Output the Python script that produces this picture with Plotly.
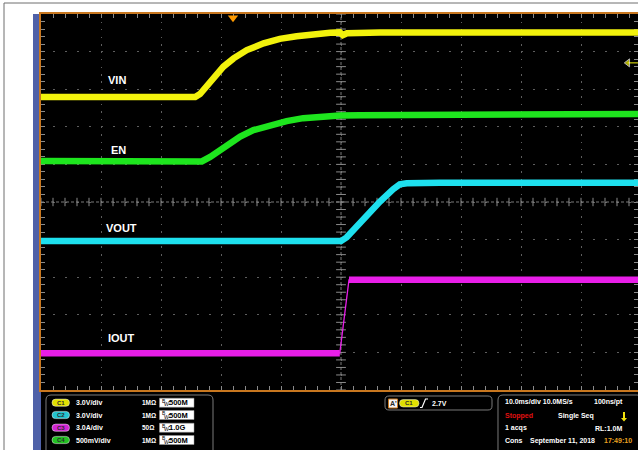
import plotly.graph_objects as go

W, H = 638, 450

# screen time in ms (10 ms/div, trigger centre at 0) and level in divisions
vin_t = [-50, -24.3, -23.5, -22.4, -21.3, -19.6, -17.9, -15.7, -12.9, -10.2, -7.4, -4.6, -1.8, -0.2, 0.3, 1.0, 6.5, 49.5]
vin_v = [2.79, 2.79, 2.87, 3.07, 3.29, 3.60, 3.82, 4.04, 4.22, 4.34, 4.41, 4.47, 4.50, 4.51, 4.44, 4.49, 4.51, 4.51]

en_t = [-50, -23.2, -21.8, -20.2, -18.5, -16.8, -14.6, -11.8, -9.05, -6.3, -3.5, -0.2, 3.2, 49.5]
en_v = [1.09, 1.08, 1.20, 1.38, 1.56, 1.74, 1.91, 2.05, 2.15, 2.23, 2.27, 2.30, 2.31, 2.34]

vout_t = [-50, 0, 0.95, 2.05, 4.3, 6.5, 8.7, 9.8, 10.95, 16.5, 49.5]
vout_v = [-1.04, -1.04, -0.94, -0.74, -0.35, 0.01, 0.34, 0.47, 0.50, 0.51, 0.51]

iout_t = [-50, -0.2, 1.33, 49.5]
iout_v = [-4.02, -4.02, -2.07, -2.07]

labels = ["VIN", "EN", "VOUT", "IOUT"]
label_t = [-39.2, -38.7, -39.5, -39.2]
label_v = [3.25, 1.39, -0.70, -3.63]
channel_no = ["1", "4", "2", "3"]
colors = ["#f2f20c", "#1ee61e", "#1ee0ee", "#e81ee8"]

ch_names = ["C1", "C2", "C3", "C4"]
ch_scale = ["3.0V/div", "3.0V/div", "3.0A/div", "500mV/div"]
ch_term = ["1M\u03a9", "1M\u03a9", "50\u03a9", "1M\u03a9"]
ch_bw = ["500M", "500M", "1.0G", "500M"]
ch_pill = ["#e0e000", "#22c4cf", "#d224d2", "#22c222"]

trig_t = -18.0
trig_level = 3.70

x_range = [-50, 49.5]
y_range = [-5, 5]

FONT = "Liberation Sans, Arial, sans-serif"
ORANGE = "#c8771f"
TICK = "#8a8a8a"


def fx(p):
    return p / W


def fy(p):
    return 1 - p / H


def rrect(x0, y0, x1, y1, r):
    pts = [("M", x0 + r, y0), ("L", x1 - r, y0), ("Q", x1, y0, x1, y0 + r), ("L", x1, y1 - r),
           ("Q", x1, y1, x1 - r, y1), ("L", x0 + r, y1), ("Q", x0, y1, x0, y1 - r),
           ("L", x0, y0 + r), ("Q", x0, y0, x0 + r, y0)]
    out = ""
    for p in pts:
        out += p[0]
        coords = p[1:]
        out += " ".join(f"{fx(coords[i]):.5f},{fy(coords[i + 1]):.5f}" for i in range(0, len(coords), 2)) + " "
    return out + "Z"


def panel_shape(**kw):
    return dict(xref="paper", yref="paper", layer="below", **kw)


def panel_text(fig, text, x, y, font, xanchor="left"):
    fig.add_annotation(x=fx(x), y=fy(y), xref="paper", yref="paper", text=text, showarrow=False,
                       xanchor=xanchor, yanchor="middle", font=font)


fig = go.Figure()

# centre cross with minor ticks
fig.add_trace(go.Scatter(x=[x_range[0], x_range[1]], y=[0, 0], mode="lines",
                         line=dict(color="#7a7a7a", width=1, dash="3px,2px"), hoverinfo="skip", showlegend=False))
fig.add_trace(go.Scatter(x=[0, 0], y=y_range, mode="lines",
                         line=dict(color="#7a7a7a", width=1, dash="3px,2px"), hoverinfo="skip", showlegend=False))
fig.add_trace(go.Scatter(x=[i * 2 for i in range(-25, 25)], y=[0] * 50, mode="markers",
                         marker=dict(symbol="line-ns", size=6, line=dict(color=TICK, width=1)),
                         hoverinfo="skip", showlegend=False))
fig.add_trace(go.Scatter(x=[0] * 51, y=[i * 0.2 for i in range(-25, 26)], mode="markers",
                         marker=dict(symbol="line-ew", size=7, line=dict(color=TICK, width=1)),
                         hoverinfo="skip", showlegend=False))

# signals
fig.add_trace(go.Scatter(x=iout_t, y=iout_v, mode="lines", line=dict(color=colors[3], width=1.3),
                         hoverinfo="skip", showlegend=False))
fig.add_trace(go.Scatter(x=iout_t[:2] + [None] + iout_t[2:], y=iout_v[:2] + [None] + iout_v[2:], mode="lines",
                         line=dict(color=colors[3], width=6.5), hoverinfo="skip", showlegend=False))
for t, v, c in [(vout_t, vout_v, colors[2]), (en_t, en_v, colors[1]), (vin_t, vin_v, colors[0])]:
    fig.add_trace(go.Scatter(x=t, y=v, mode="lines", line=dict(color=c, width=6.5),
                             hoverinfo="skip", showlegend=False))

# channel ground markers
fig.add_trace(go.Scatter(x=[x_range[0] - 0.17] * 4, y=[vin_v[0], en_v[0], vout_v[0], iout_v[0]],
                         mode="markers+text", text=channel_no, textposition="middle center",
                         textfont=dict(family=FONT, size=8, color="#222"),
                         marker=dict(size=11, color=colors, line=dict(color="#e8e8b0", width=1)),
                         cliponaxis=False, hoverinfo="skip", showlegend=False))

# trigger position and level
fig.add_trace(go.Scatter(x=[trig_t], y=[4.9], mode="markers",
                         marker=dict(symbol="triangle-down", size=9, color="#ff9a00"),
                         cliponaxis=False, hoverinfo="skip", showlegend=False))
fig.add_trace(go.Scatter(x=[47.8, x_range[1]], y=[trig_level, trig_level], mode="lines+markers",
                         line=dict(color="#f2f20c", width=1),
                         marker=dict(symbol=["triangle-left", "circle"], size=[7, 0], color="#f2f20c"),
                         xaxis="x", yaxis="y2", cliponaxis=False, hoverinfo="skip", showlegend=False))

for name, t, v in zip(labels, label_t, label_v):
    fig.add_annotation(x=t, y=v, text=f"<b>{name}</b>", showarrow=False, xanchor="left", yanchor="middle",
                       font=dict(family=FONT, size=11, color="white"))

shapes = [
    dict(type="line", xref="paper", yref="paper", x0=fx(4), x1=fx(4), y0=fy(3), y1=0,
         line=dict(color="#6e6e6e", width=1)),
    dict(type="line", xref="paper", yref="paper", x0=fx(4), x1=1, y0=fy(3), y1=fy(3),
         line=dict(color="#6e6e6e", width=1)),
    panel_shape(type="rect", x0=fx(33), x1=fx(41), y0=0, y1=fy(14), fillcolor="#4f61a8", line=dict(width=0)),
    panel_shape(type="rect", x0=fx(41), x1=1, y0=0, y1=fy(390), fillcolor="black", line=dict(width=0)),
    # info boxes
    panel_shape(type="path", path=rrect(46, 395, 213, 456, 5), line=dict(color="#7a7a7a", width=1)),
    panel_shape(type="path", path=rrect(385, 396, 492, 410, 4), line=dict(color="#7a7a7a", width=1)),
    panel_shape(type="path", path=rrect(498, 395, 642, 456, 5), line=dict(color="#7a7a7a", width=1)),
]

TXT = dict(family=FONT, size=7, color="white", weight="bold")
PILL = dict(family=FONT, size=6, color="#2a2a2a", weight="bold")

rows = [402.7, 415, 427.7, 440]
for i, yy in enumerate(rows):
    shapes.append(panel_shape(type="path", path=rrect(52, yy - 3.6, 69.5, yy + 3.6, 3.6),
                              fillcolor=ch_pill[i], line=dict(color="#f0f0f0", width=0.5)))
    shapes.append(panel_shape(type="rect", x0=fx(159.5), x1=fx(194), y0=fy(yy + 4.5), y1=fy(yy - 4.5),
                              fillcolor="white", line=dict(color="#999", width=0.5)))
    panel_text(fig, ch_names[i], 60.7, yy, PILL, "center")
    panel_text(fig, ch_scale[i], 73.5, yy, TXT)
    panel_text(fig, ch_term[i], 140, yy, dict(family=FONT, size=6.5, color="white", weight="bold"))
    panel_text(fig, "B", 160.2, yy - 2, dict(family=FONT, size=5, color="black"))
    panel_text(fig, "W", 162.3, yy + 1.6, dict(family=FONT, size=5, color="black"))
    panel_text(fig, ch_bw[i], 166.5, yy, dict(family=FONT, size=7.5, color="black", weight="bold"))
    panel_text(fig, ":", 165.5, yy, dict(family=FONT, size=7.5, color="black", weight="bold"))

# trigger readout
shapes.append(panel_shape(type="rect", x0=fx(388.5), x1=fx(397.5), y0=fy(408), y1=fy(399),
                          fillcolor="#f4f4f4", line=dict(color=ORANGE, width=1)))
shapes.append(panel_shape(type="path", path=rrect(399.5, 399.6, 419, 407, 3.7),
                          fillcolor=ch_pill[0], line=dict(color="#f0f0f0", width=0.5)))
shapes.append(panel_shape(type="path",
                          path=f"M{fx(420):.5f},{fy(407.5):.5f} L{fx(422):.5f},{fy(407.5):.5f} "
                               f"L{fx(425.5):.5f},{fy(399):.5f} L{fx(428):.5f},{fy(399):.5f}",
                          line=dict(color="white", width=1.2)))
panel_text(fig, "A'", 393, 403.5, dict(family=FONT, size=7, color="#2a2a2a", weight="bold"), "center")
panel_text(fig, "C1", 409.2, 403.3, PILL, "center")
panel_text(fig, "2.7V", 429.5, 403, TXT)

# acquisition readout
acq = [
    ("10.0ms/div 10.0MS/s", 503, 401.5, "white"),
    ("100ns/pt", 592, 401.5, "white"),
    ("Stopped", 503, 415.5, "#e01010"),
    ("Single Seq", 556, 415.5, "white"),
    ("1 acqs", 503, 428, "white"),
    ("RL:1.0M", 593, 428, "white"),
    ("Cons", 503, 440.5, "white"),
    ("September 11, 2018", 528, 440.5, "white"),
    ("17:49:10", 602, 440.5, "#e8a020"),
]
for txt, xx, yy, c in acq:
    panel_text(fig, txt, xx, yy, dict(family=FONT, size=7, color=c, weight="bold"))
shapes.append(panel_shape(type="line", x0=fx(624), x1=fx(624), y0=fy(412), y1=fy(418),
                          line=dict(color="#f2e20c", width=2)))
shapes.append(panel_shape(type="path",
                          path=f"M{fx(621):.5f},{fy(418):.5f} L{fx(627):.5f},{fy(418):.5f} "
                               f"L{fx(624):.5f},{fy(421.5):.5f} Z",
                          fillcolor="#f2e20c", line=dict(width=0)))

axis_common = dict(showticklabels=False, zeroline=False, ticks="inside", ticklen=4, tickcolor=TICK,
                   tickwidth=1, layer="below traces")

fig.update_layout(
    width=W, height=H,
    margin=dict(l=0, r=0, t=0, b=0),
    paper_bgcolor="white",
    plot_bgcolor="black",
    shapes=shapes,
    xaxis=dict(domain=[fx(41), 1], range=x_range, dtick=10, tick0=0, showgrid=True, gridcolor="#5e5e5e",
               griddash="1.5px,6px", gridwidth=1, showline=True, linecolor=ORANGE, linewidth=2, mirror="ticks",
               minor=dict(dtick=2, tick0=0, ticks="inside", ticklen=4, tickcolor=TICK, showgrid=False),
               **axis_common),
    yaxis=dict(domain=[fy(390), fy(14)], range=y_range, dtick=1, tick0=0, showgrid=True, gridcolor="#5e5e5e",
               griddash="1.5px,10.5px", gridwidth=1, showline=True, linecolor=ORANGE, linewidth=2, mirror=False,
               minor=dict(dtick=0.2, tick0=0, ticks="inside", ticklen=4, tickcolor=TICK, showgrid=False),
               **axis_common),
    yaxis2=dict(overlaying="y", side="right", range=y_range, dtick=1, tick0=0, showgrid=False,
                showline=False,
                minor=dict(dtick=0.2, tick0=0, ticks="inside", ticklen=4, tickcolor=TICK, showgrid=False),
                **axis_common),
)

fig.write_html("out.html", config={"displayModeBar": False},
               post_script="document.body.style.margin='0';")
